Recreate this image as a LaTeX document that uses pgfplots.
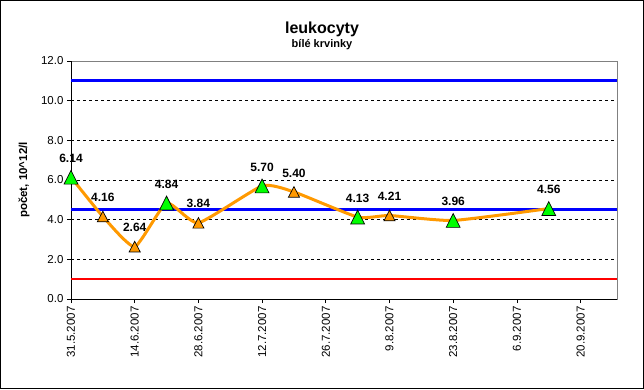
\documentclass[border=0pt]{standalone}
\usepackage{fontspec}
\setmainfont{Liberation Sans}
\usepackage{pgfplots}
\usepackage{pgfplotstable}
\pgfplotsset{compat=1.18}
\definecolor{xlorange}{RGB}{255,153,0}
\definecolor{xlgreen}{RGB}{0,255,0}
\definecolor{xlblue}{RGB}{0,0,255}
\definecolor{xlred}{RGB}{255,0,0}
\definecolor{xlgray}{RGB}{128,128,128}

\pgfplotstableread{
x y
0 6.14
7 4.16
14 2.64
21 4.84
28 3.84
42 5.70
49 5.40
63 4.13
70 4.21
84 3.96
105 4.56
}\alldata

\pgfplotstableread{
x y
0 6.14
21 4.84
42 5.70
63 4.13
84 3.96
105 4.56
}\greendata

\pgfplotstableread{
x y
7 4.16
14 2.64
28 3.84
49 5.40
70 4.21
}\orangedata

\begin{document}
\begin{tikzpicture}
\useasboundingbox (0pt,0pt) rectangle (644pt,389pt);
\draw[black, line width=1pt] (0.5pt,0.5pt) rectangle (643.5pt,388.5pt);
\node[font=\fontsize{16}{19}\selectfont\bfseries, anchor=base] at (322pt,355pt) {leukocyty};
\node[font=\fontsize{11}{13}\selectfont\bfseries, anchor=base] at (322pt,341.3pt) {bílé krvinky};
\node[font=\fontsize{11.5}{13}\selectfont\bfseries, rotate=90] at (24pt,209pt) {počet, 10\^{}12/l};
\begin{axis}[
  at={(71pt,90pt)}, anchor=south west,
  scale only axis, width=546pt, height=238pt,
  xmin=0, xmax=120, ymin=0, ymax=12,
  clip=false,
  axis line style={draw=xlgray, line width=0.8pt},
  xtick={0,14,...,112},
  xticklabels={31.5.2007,14.6.2007,28.6.2007,12.7.2007,26.7.2007,9.8.2007,23.8.2007,6.9.2007,20.9.2007},
  ytick={0,2,...,12},
  extra y ticks={2,4,...,10},
  extra y tick labels={},
  extra y tick style={grid=major},
  major grid style={black, dash pattern=on 3pt off 3pt, line width=0.8pt},
  tick align=outside, major tick length=4pt,
  tick style={black, line width=0.8pt},
  xtick pos=bottom, ytick pos=left,
  /pgf/number format/assume math mode=true,
  yticklabel style={font=\fontsize{11.5}{13}\selectfont, /pgf/number format/.cd, fixed, fixed zerofill, precision=1},
  xticklabel style={rotate=90, anchor=east, font=\fontsize{11.5}{13}\selectfont},
]
\draw[black, line width=0.8pt] (rel axis cs:0,1) -- (rel axis cs:0,0) -- (rel axis cs:1,0);
\addplot[xlblue, line width=3pt, no marks] coordinates {(0,11) (120,11)};
\addplot[xlblue, line width=3pt, no marks] coordinates {(0,4.5) (120,4.5)};
\addplot[xlred, line width=2pt, no marks] coordinates {(0,1) (120,1)};
\addplot[xlorange, line width=3pt, no marks, smooth, tension=0.3] table {\alldata};
\addplot[only marks, mark=triangle*, mark size=6.4pt,
  mark options={fill=xlorange, draw=black, line width=0.7pt, yscale=1.1, yshift=-1.6pt}] table {\orangedata};
\addplot[only marks, mark=triangle*, mark size=8pt,
  mark options={fill=xlgreen, draw=black, line width=0.7pt, yscale=1.15, yshift=-2pt}] table {\greendata};
\addplot[draw=none, nodes near coords, point meta=y,
  nodes near coords style={font=\fontsize{12}{14}\selectfont\bfseries, anchor=center, yshift=19pt,
    /pgf/number format/.cd, fixed, fixed zerofill, precision=2}] table {\alldata};
\end{axis}
\end{tikzpicture}
\end{document}
